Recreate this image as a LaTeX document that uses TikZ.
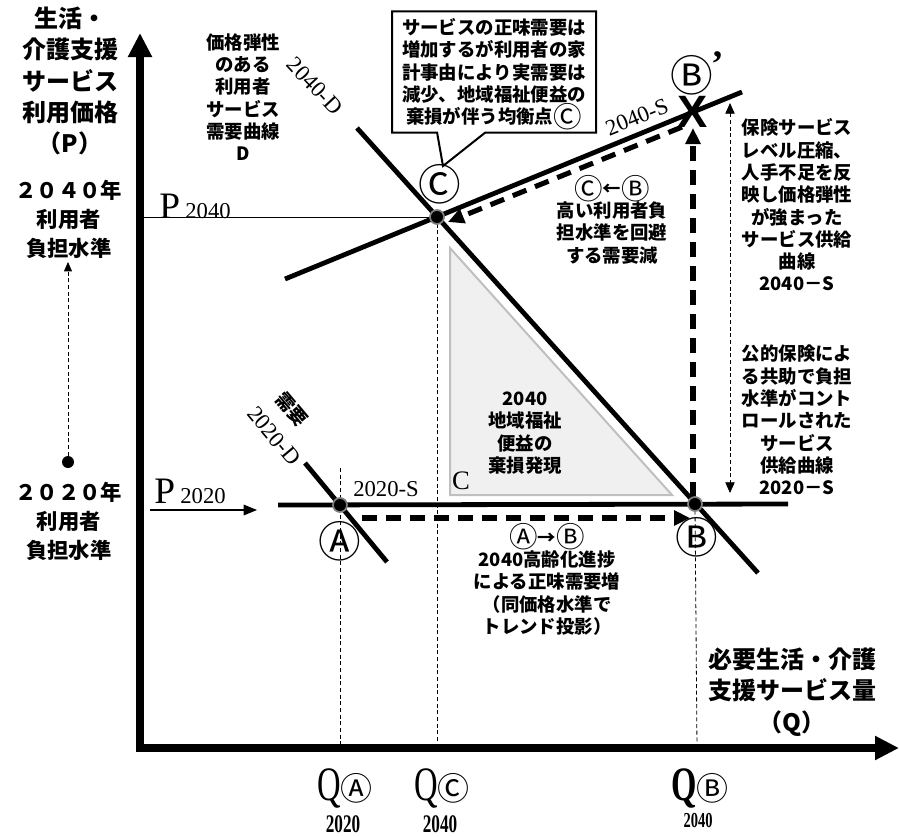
\documentclass[tikz,border=0pt]{standalone}
\usepackage{fontspec}
\setmainfont{Noto Sans CJK JP}
\newfontfamily\lat{Liberation Serif}
\newfontfamily\latn{Liberation Serif}[FakeStretch=0.68]
\newfontfamily\lsans{Liberation Sans}
\usetikzlibrary{arrows.meta,shapes.callouts}
\newcommand\fs[2]{\fontsize{#1}{#2}\selectfont}
\newcommand\cc[1]{\smash{\raisebox{-0.2em}{\scalebox{1.55}{\mdseries #1}}}}
\tikzset{
  txt/.style={align=center, font=\bfseries\fs{13.8}{16.7}, inner sep=0pt},
  axlabel/.style={align=center, font=\bfseries\fs{18}{23.5}, inner sep=0pt},
  yearlabel/.style={align=center, font=\bfseries\fs{16}{21.8}, inner sep=0pt},
  curve/.style={line width=3.6pt},
  guide/.style={line width=0.6pt, dash pattern=on 3pt off 2pt},
  bigdash/.style={line width=3.8pt, dash pattern=on 11pt off 7pt, -{Triangle[length=12pt,width=11pt]}},
  axis/.style={line width=6pt, -{Triangle[length=18pt,width=17pt]}},
  eqdot/.style={circle, fill=black, draw=gray, line width=1.3pt, minimum size=10.5pt, inner sep=0pt},
  circ/.style={inner sep=0pt, font=\fs{32}{32}},
  seglabel/.style={inner sep=0pt, font=\lat\fs{17}{17}},
}
\begin{document}
\begin{tikzpicture}[x=0.75pt,y=-0.75pt]
\useasboundingbox (0,0) rectangle (899,836);
% coordinates
\coordinate (O) at (140,748);
\coordinate (ytip) at (140,33);
\coordinate (xstart) at (136,748);
\coordinate (xtip) at (899,748);
\coordinate (A) at (340,505);
\coordinate (B) at (695,504);
\coordinate (C) at (437,217);
\coordinate (Bp) at (693,112);
\coordinate (s40a) at (285,279);
\coordinate (s40b) at (742,92);
\coordinate (d40a) at (357,128);
\coordinate (d40b) at (758,573);
\coordinate (s20a) at (278,505);
\coordinate (s20b) at (788,504);
\coordinate (d20a) at (305,463);
\coordinate (d20b) at (387,562);

% triangle
\fill[gray!12, draw=gray!50, line width=1.5pt] (450,248) -- (450,495) -- (672,495) -- cycle;
\node[inner sep=0pt, font=\lat\fs{20}{20}] (tC) at (461,481) {C};
\node[txt] (tri) at (525,433) {2040\\地域福祉\\便益の\\棄損発現};

% guides
\draw[guide] (340,468) -- (340,748);
\draw[guide] (C) -- (437,748);
\draw[guide] (B) -- (697,748);
\draw[line width=0.6pt] (140,217) -- (C);

% axes
\draw[axis] (O) -- (ytip);
\draw[axis] (xstart) -- (xtip);

% curves
\draw[curve] (s40a) -- (s40b);
\draw[curve] (d40a) -- (d40b);
\draw[curve] (s20a) -- (s20b);
\draw[curve] (d20a) -- (d20b);

% dashed shift arrows
\draw[bigdash] (362,518) -- (690,518);
\draw[bigdash] (693,497) -- (693,128);
\draw[bigdash] (682,127) -- (448,222);

% right double arrow
\draw[guide, {Triangle[length=8pt,width=7pt]}-{Triangle[length=8pt,width=7pt]}] (730,103) -- (730,493);

% dots
\node[eqdot] (dA) at (A) {};
\node[eqdot] (dB) at (B) {};
\node[eqdot] (dC) at (C) {};

% B' mark
\node[inner sep=0pt, font=\lsans\bfseries\fs{34}{34}] (X) at (Bp) {X};
\node[circ] (lBp) at (692,75) {Ⓑ};
\node[inner sep=0pt, font=\lat\bfseries\fs{28}{28}] (apos) at (718,64) {’};
\node[circ] (lA) at (340,541) {Ⓐ};
\node[circ] (lB) at (697,537) {Ⓑ};
\node[circ] (lC) at (440,184) {Ⓒ};

% curve labels
\node[seglabel, rotate=-47] (l40D) at (315,86) {2040-D};
\node[seglabel, rotate=22] (l40S) at (637,117) {2040-S};
\node[seglabel] (l20S) at (386,489) {2020-S};
\node[inner sep=0pt, rotate=-50, font=\bfseries\fs{14}{14}] (l20Da) at (292,409) {需要};
\node[seglabel, rotate=-50] (l20Db) at (274,436) {2020-D};

% callout
\node[rectangle callout, draw, fill=white, line width=1.5pt, minimum width=153pt, minimum height=91pt,
      callout absolute pointer={(443,166)}, callout pointer width=36pt, txt] (call) at (494,72)
  {サービスの正味需要は\\増加するが利用者の家\\計事由により実需要は\\減少、地域福祉便益の\\棄損が伴う均衡点\cc{Ⓒ}};

% texts
\node[txt] (dlabel) at (243,97) {価格弾性\\のある\\利用者\\サービス\\需要曲線\\D};
\node[txt] (cb) at (612,224) {\cc{Ⓒ}←\cc{Ⓑ}\\高い利用者負\\担水準を回避\\する需要減};
\node[txt] (r1) at (797,205) {保険サービス\\レベル圧縮、\\人手不足を反\\映し価格弾性\\が強まった\\サービス供給\\曲線\\2040－S};
\node[txt] (r2) at (797,420) {公的保険によ\\る共助で負担\\水準がコント\\ロールされた\\サービス\\供給曲線\\2020－S};
\node[txt] (ab) at (547,584) {\cc{Ⓐ}→\cc{Ⓑ}\\2040高齢化進捗\\による正味需要増\\（同価格水準で\\トレンド投影）};

% axis labels
\node[axlabel] (ylab) at (70,81) {生活・\\介護支援\\サービス\\利用価格\\（P）};
\node[axlabel] (xlab) at (792,692) {必要生活・介護\\支援サービス量\\（Q）};
\node[yearlabel] (y40) at (69,219) {２０４０年\\利用者\\負担水準};
\node[yearlabel] (y20) at (69,521) {２０２０年\\利用者\\負担水準};
\node[circle, fill=black, minimum size=9pt, inner sep=0pt] (ydot) at (68,462) {};
\draw[guide, -{Triangle[length=7pt,width=6pt]}] (ydot) -- (68,262);

% P labels
\node[inner sep=0pt] (P40) at (195,206) {{\lat\fs{28}{28}P}\hspace{4pt}{\lat\fs{17}{17}2040}};
\node[inner sep=0pt] (P20) at (190,491) {{\lat\fs{28}{28}P}\hspace{4pt}{\lat\fs{17}{17}2020}};
\draw[line width=0.8pt, -{Triangle[length=10pt,width=8pt]}] (150,510) -- (257,510);

% Q labels
\node[inner sep=0pt] (QA) at (345,788) {{\latn\fs{36}{36}Q}{\fs{24}{24}Ⓐ}};
\node[inner sep=0pt] (QC) at (442,788) {{\latn\fs{36}{36}Q}{\fs{24}{24}Ⓒ}};
\node[inner sep=0pt] (QB) at (700,788) {{\latn\bfseries\fs{36}{36}Q}{\fs{24}{24}Ⓑ}};
\node[inner sep=0pt, font=\latn\bfseries\fs{19}{19}] (yA) at (343,824) {2020};
\node[inner sep=0pt, font=\latn\bfseries\fs{19}{19}] (yC) at (440,824) {2040};
\node[inner sep=0pt, font=\latn\bfseries\fs{16}{16}] (yB) at (698,820) {2040};
\end{tikzpicture}
\end{document}
